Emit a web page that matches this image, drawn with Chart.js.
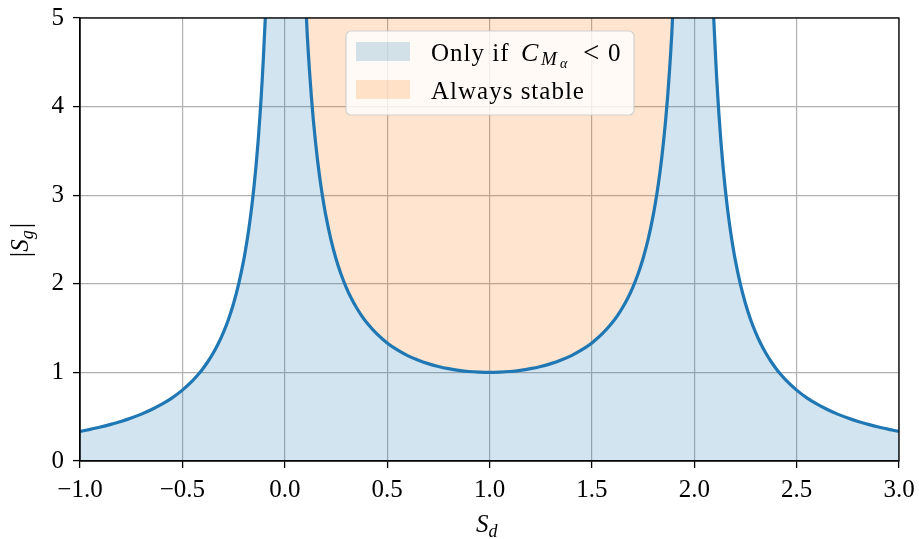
<!DOCTYPE html>
<html>
<head>
<meta charset="utf-8">
<script src="https://cdn.jsdelivr.net/npm/chart.js@4.4.1/dist/chart.umd.min.js"></script>
<style>
  html, body { margin: 0; padding: 0; background: #fff; }
  canvas { display: block; }
</style>
</head>
<body>
<canvas id="stability-chart" width="919" height="539"></canvas>
<script>
// values: |Sg| against Sd
const sdLeft = [-1.0, -0.95, -0.9, -0.85, -0.8, -0.75, -0.7, -0.65, -0.6, -0.55,
  -0.5, -0.45, -0.425, -0.4, -0.375, -0.35, -0.325, -0.3, -0.275, -0.25,
  -0.225, -0.2, -0.19, -0.175, -0.16, -0.15, -0.14, -0.13, -0.12, -0.115,
  -0.11, -0.105, -0.1, -0.095];
const sgLeft = [0.333, 0.357, 0.383, 0.413, 0.446, 0.485, 0.529, 0.581, 0.641, 0.713,
  0.800, 0.907, 0.970, 1.042, 1.123, 1.216, 1.323, 1.449, 1.598, 1.778,
  1.998, 2.273, 2.403, 2.627, 2.894, 3.101, 3.338, 3.611, 3.931, 4.112,
  4.308, 4.524, 4.762, 5.0];

const sdMid = [0.106, 0.11, 0.115, 0.12, 0.13, 0.14, 0.15, 0.16, 0.175, 0.19,
  0.2, 0.225, 0.25, 0.275, 0.3, 0.325, 0.35, 0.375, 0.4, 0.45,
  0.5, 0.55, 0.6, 0.65, 0.7, 0.75, 0.8, 0.85, 0.9, 0.95, 1.0,
  1.05, 1.1, 1.15, 1.2, 1.25, 1.3, 1.35, 1.4, 1.45, 1.5,
  1.55, 1.6, 1.625, 1.65, 1.675, 1.7, 1.725, 1.75, 1.775, 1.8,
  1.81, 1.825, 1.84, 1.85, 1.86, 1.87, 1.88, 1.885, 1.89, 1.894];
const sgMid = [5.0, 4.810, 4.613, 4.433, 4.113, 3.840, 3.604, 3.397, 3.131, 2.908,
  2.778, 2.504, 2.286, 2.108, 1.961, 1.837, 1.732, 1.641, 1.563, 1.434,
  1.333, 1.254, 1.190, 1.140, 1.099, 1.067, 1.042, 1.023, 1.010, 1.003, 1.000,
  1.003, 1.010, 1.023, 1.042, 1.067, 1.099, 1.140, 1.190, 1.254, 1.333,
  1.434, 1.563, 1.641, 1.732, 1.837, 1.961, 2.108, 2.286, 2.504, 2.778,
  2.908, 3.131, 3.397, 3.604, 3.840, 4.113, 4.433, 4.613, 4.810, 5.0];

const sdRight = [2.095, 2.1, 2.105, 2.11, 2.115, 2.12, 2.13, 2.14, 2.15, 2.16,
  2.175, 2.19, 2.2, 2.225, 2.25, 2.275, 2.3, 2.325, 2.35, 2.375,
  2.4, 2.425, 2.45, 2.5, 2.55, 2.6, 2.65, 2.7, 2.75, 2.8,
  2.85, 2.9, 2.95, 3.0];
const sgRight = [5.0, 4.762, 4.524, 4.308, 4.112, 3.931, 3.611, 3.338, 3.101, 2.894,
  2.627, 2.403, 2.273, 1.998, 1.778, 1.598, 1.449, 1.323, 1.216, 1.123,
  1.042, 0.970, 0.907, 0.800, 0.713, 0.641, 0.581, 0.529, 0.485, 0.446,
  0.413, 0.383, 0.357, 0.333];

const xTicks = [-1.0, -0.5, 0.0, 0.5, 1.0, 1.5, 2.0, 2.5, 3.0];
const yTicks = [0, 1, 2, 3, 4, 5];
const legendLabels = ['Only if', 'Always stable'];

const blue = '#1f77b4';
const blueFill = 'rgba(31, 119, 180, 0.2)';
const orangeFill = 'rgba(255, 127, 14, 0.2)';
const serif = '"Liberation Serif", "DejaVu Serif", serif';

const toPoints = (xs, ys) => xs.map((x, i) => ({ x, y: ys[i] }));
const lineSet = (xs, ys) => ({
  data: toPoints(xs, ys),
  borderColor: blue,
  borderWidth: 3.2,
  pointRadius: 0,
  fill: false,
  cubicInterpolationMode: 'monotone',
  order: 1
});

// axis titles, top/right spines and legend
const decorations = {
  id: 'decorations',
  beforeDraw(chart) {
    const { ctx } = chart;
    ctx.save();
    ctx.fillStyle = '#fff';
    ctx.fillRect(0, 0, chart.width, chart.height);
    ctx.restore();
  },
  afterDraw(chart) {
    const { ctx, chartArea: a } = chart;
    ctx.save();
    ctx.strokeStyle = '#000';
    ctx.lineWidth = 1.3;
    ctx.strokeRect(a.left, a.top, a.right - a.left, a.bottom - a.top);

    // x title S_d
    ctx.fillStyle = '#000';
    ctx.textBaseline = 'alphabetic';
    ctx.font = `italic 25px ${serif}`;
    let x = 476;
    ctx.fillText('S', x, 532);
    x += ctx.measureText('S').width;
    ctx.font = `italic 18px ${serif}`;
    ctx.fillText('d', x, 537);

    // y title |S_g|
    ctx.translate(28, 240);
    ctx.rotate(-Math.PI / 2);
    ctx.font = `27px ${serif}`;
    const bar = ctx.measureText('|').width;
    ctx.font = `italic 25px ${serif}`;
    const sw = ctx.measureText('S').width;
    ctx.font = `italic 18px ${serif}`;
    const gw = ctx.measureText('g').width;
    x = -(bar * 2 + sw + gw + 2) / 2;
    ctx.font = `27px ${serif}`;
    ctx.fillText('|', x, 1);
    x += bar;
    ctx.font = `italic 25px ${serif}`;
    ctx.fillText('S', x, 0);
    x += sw;
    ctx.font = `italic 18px ${serif}`;
    ctx.fillText('g', x, 5);
    x += gw + 2;
    ctx.font = `27px ${serif}`;
    ctx.fillText('|', x, 1);
    ctx.restore();

    // legend
    ctx.save();
    ctx.beginPath();
    ctx.roundRect(346, 31, 288, 84, 5);
    ctx.fillStyle = 'rgba(255, 255, 255, 0.8)';
    ctx.fill();
    ctx.strokeStyle = 'rgba(204, 204, 204, 0.9)';
    ctx.lineWidth = 1.2;
    ctx.stroke();

    ctx.fillStyle = blueFill;
    ctx.fillRect(356, 42, 54, 19);
    ctx.fillStyle = orangeFill;
    ctx.fillRect(356, 80, 54, 19);

    ctx.fillStyle = '#000';
    ctx.letterSpacing = '1px';
    ctx.font = `25px ${serif}`;
    ctx.fillText(legendLabels[0], 431, 61);
    ctx.fillText(legendLabels[1], 431, 99);
    ctx.letterSpacing = '0px';
    ctx.font = `italic 26px ${serif}`;
    ctx.fillText('C', 521, 61);
    ctx.font = `italic 19px ${serif}`;
    ctx.fillText('M', 541, 65);
    ctx.font = `italic 14px ${serif}`;
    ctx.fillText('\u03b1', 560, 68);
    ctx.font = `29px ${serif}`;
    ctx.fillText('<', 583, 62);
    ctx.font = `25px ${serif}`;
    ctx.fillText('0', 608, 61);
    ctx.restore();
  }
};

const ctx = document.getElementById('stability-chart').getContext('2d');

const stabilityChart = new Chart(ctx, {
  type: 'line',
  data: {
    datasets: [
      lineSet(sdLeft, sgLeft),
      lineSet(sdMid, sgMid),
      lineSet(sdRight, sgRight),
      {
        // always stable region, between curve and top
        data: toPoints(sdMid, sgMid),
        borderWidth: 0,
        pointRadius: 0,
        backgroundColor: orangeFill,
        fill: 'end',
        cubicInterpolationMode: 'monotone',
        order: 3
      },
      {
        // only if C_M_alpha < 0, under the curve
        data: toPoints(sdLeft.concat(sdMid, sdRight), sgLeft.concat(sgMid, sgRight)),
        borderWidth: 0,
        pointRadius: 0,
        backgroundColor: blueFill,
        fill: 'origin',
        cubicInterpolationMode: 'monotone',
        order: 3
      }
    ]
  },
  options: {
    responsive: false,
    animation: false,
    devicePixelRatio: 1,
    layout: { padding: { top: 18, right: 20, left: 0, bottom: 0 } },
    plugins: {
      legend: { display: false },
      tooltip: { enabled: false }
    },
    scales: {
      x: {
        type: 'linear',
        min: -1,
        max: 3,
        afterFit: (scale) => {
          scale.height = 78;
          scale.paddingRight = 0;
          scale.paddingLeft = 0;
        },
        afterBuildTicks: (scale) => { scale.ticks = xTicks.map((v) => ({ value: v })); },
        ticks: {
          color: '#000',
          padding: 7,
          font: { family: serif, size: 25 },
          callback: (v) => (v < 0 ? '\u2212' : '') + Math.abs(v).toFixed(1)
        },
        grid: {
          color: '#b0b0b0',
          lineWidth: 1.2,
          tickColor: '#000',
          tickLength: 7,
          tickWidth: 1.3
        },
        border: { color: '#000', width: 1.3 }
      },
      y: {
        min: 0,
        max: 5,
        afterFit: (scale) => {
          scale.width = 80;
          scale.paddingTop = 0;
          scale.paddingBottom = 0;
        },
        afterBuildTicks: (scale) => { scale.ticks = yTicks.map((v) => ({ value: v })); },
        ticks: {
          color: '#000',
          padding: 9,
          font: { family: serif, size: 25 },
          callback: (v) => String(v)
        },
        grid: {
          color: '#b0b0b0',
          lineWidth: 1.2,
          tickColor: '#000',
          tickLength: 7,
          tickWidth: 1.3
        },
        border: { color: '#000', width: 1.3 }
      }
    }
  },
  plugins: [decorations]
});
</script>
</body>
</html>
